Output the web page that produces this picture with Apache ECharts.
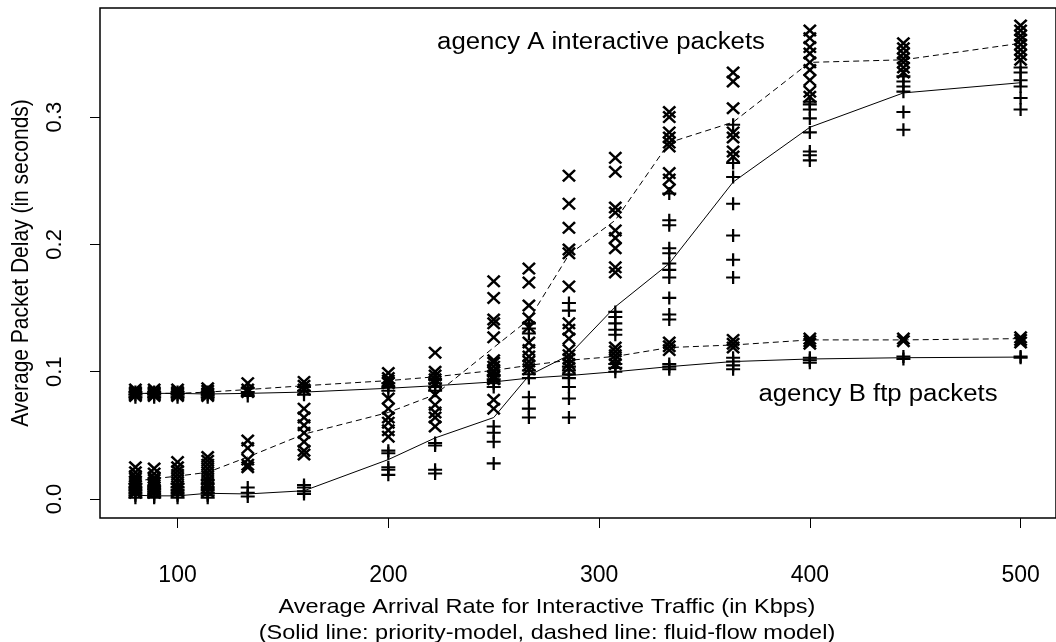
<!DOCTYPE html>
<html>
<head>
<meta charset="utf-8">
<script src="https://cdn.jsdelivr.net/npm/echarts@6/dist/echarts.min.js"></script>
<style>
  html, body { margin: 0; padding: 0; background: #fff; }
  #chart { width: 1056px; height: 642px; }
</style>
</head>
<body>
<div id="chart"></div>
<script>
// arrival rates (Kbps)
const rates = [80, 88.9, 100, 114.3, 133.3, 160, 200, 222.2, 250, 266.7, 285.7, 307.7, 333.3, 363.6, 400, 444.4, 500];

// model curves (seconds)
const aPriority = [0.003, 0.0025, 0.0025, 0.0045, 0.004, 0.0065, 0.031, 0.048, 0.064, 0.097, 0.113, 0.151, 0.185, 0.249, 0.292, 0.319, 0.327];
const aFluid = [0.014, 0.016, 0.018, 0.021, 0.033, 0.051, 0.068, 0.082, 0.119, 0.141, 0.192, 0.219, 0.280, 0.296, 0.343, 0.345, 0.358];
const bPriority = [0.083, 0.083, 0.083, 0.0825, 0.083, 0.084, 0.087, 0.089, 0.092, 0.095, 0.097, 0.100, 0.104, 0.108, 0.110, 0.111, 0.1115];
const bFluid = [0.083, 0.083, 0.083, 0.084, 0.086, 0.089, 0.093, 0.096, 0.101, 0.105, 0.109, 0.112, 0.119, 0.121, 0.125, 0.125, 0.126];

// simulation runs, one list per rate
const aCross = [
  [0.025, 0.021, 0.018, 0.016, 0.014, 0.012, 0.010, 0.008, 0.006, 0.005],
  [0.024, 0.020, 0.017, 0.015, 0.013, 0.011, 0.009, 0.007, 0.005],
  [0.029, 0.025, 0.022, 0.019, 0.016, 0.013, 0.010, 0.008, 0.006],
  [0.033, 0.030, 0.027, 0.024, 0.021, 0.018, 0.015, 0.012, 0.009, 0.006],
  [0.046, 0.040, 0.031, 0.027, 0.025],
  [0.071, 0.064, 0.058, 0.052, 0.045, 0.038, 0.035],
  [0.079, 0.071, 0.064, 0.060, 0.054, 0.049],
  [0.115, 0.082, 0.074, 0.068, 0.064, 0.057],
  [0.171, 0.158, 0.141, 0.138, 0.127, 0.109, 0.107, 0.101, 0.096, 0.078, 0.071],
  [0.181, 0.170, 0.152, 0.142, 0.135, 0.123, 0.117],
  [0.254, 0.232, 0.213, 0.196, 0.193, 0.167, 0.138, 0.133, 0.126],
  [0.268, 0.257, 0.229, 0.225, 0.211, 0.205, 0.197, 0.182, 0.178],
  [0.304, 0.300, 0.288, 0.284, 0.280, 0.277, 0.256, 0.251, 0.243],
  [0.335, 0.328, 0.307, 0.288, 0.284, 0.273, 0.269],
  [0.368, 0.362, 0.355, 0.350, 0.343, 0.337, 0.329, 0.320, 0.316],
  [0.358, 0.354, 0.350, 0.346, 0.343, 0.339, 0.335],
  [0.372, 0.368, 0.364, 0.361, 0.357, 0.353, 0.349, 0.345]
];
const aPlus = [
  [0.012, 0.009, 0.007, 0.005, 0.003, 0.001],
  [0.010, 0.008, 0.006, 0.004, 0.002, 0.001],
  [0.012, 0.009, 0.007, 0.005, 0.003, 0.001],
  [0.015, 0.012, 0.009, 0.007, 0.005, 0.003, 0.001],
  [0.009, 0.005, 0.002],
  [0.011, 0.009, 0.006, 0.004],
  [0.038, 0.036, 0.025, 0.023, 0.019],
  [0.044, 0.042, 0.023, 0.020],
  [0.057, 0.052, 0.045, 0.028],
  [0.138, 0.134, 0.130, 0.080, 0.071, 0.064],
  [0.154, 0.148, 0.088, 0.079, 0.064],
  [0.147, 0.143, 0.138, 0.133, 0.129],
  [0.240, 0.219, 0.215, 0.197, 0.193, 0.185, 0.180, 0.174, 0.158, 0.145, 0.141],
  [0.294, 0.264, 0.253, 0.232, 0.207, 0.188, 0.174],
  [0.312, 0.310, 0.306, 0.299, 0.288, 0.273, 0.270, 0.266],
  [0.332, 0.328, 0.324, 0.320, 0.304, 0.290],
  [0.339, 0.335, 0.329, 0.324, 0.315, 0.306]
];
const bCross = [
  [0.086, 0.084, 0.083, 0.082, 0.081],
  [0.086, 0.084, 0.083, 0.082, 0.081],
  [0.086, 0.084, 0.083, 0.082, 0.081],
  [0.087, 0.085, 0.083, 0.082, 0.081],
  [0.091, 0.086, 0.084],
  [0.092, 0.089, 0.086],
  [0.099, 0.095, 0.093, 0.091],
  [0.100, 0.097, 0.094, 0.091],
  [0.104, 0.100, 0.097, 0.094],
  [0.112, 0.108, 0.105, 0.102],
  [0.117, 0.113, 0.110, 0.106, 0.103],
  [0.119, 0.116, 0.113, 0.110, 0.106],
  [0.123, 0.120, 0.117],
  [0.125, 0.122, 0.119],
  [0.126, 0.124, 0.122],
  [0.126, 0.124],
  [0.127, 0.125, 0.123]
];
const bPlus = [
  [0.084, 0.082, 0.080],
  [0.084, 0.082, 0.080],
  [0.084, 0.082, 0.080],
  [0.084, 0.082, 0.080],
  [0.087, 0.084, 0.081],
  [0.088, 0.085, 0.082],
  [0.091, 0.088, 0.085],
  [0.094, 0.091, 0.088, 0.085],
  [0.097, 0.094, 0.091, 0.088],
  [0.101, 0.098, 0.095],
  [0.104, 0.101, 0.098, 0.095],
  [0.106, 0.103, 0.100],
  [0.106, 0.104, 0.102],
  [0.111, 0.108, 0.105, 0.102],
  [0.111, 0.109, 0.107],
  [0.112, 0.110],
  [0.112, 0.111]
];

const xTicks = [100, 200, 300, 400, 500];
const yTicks = [0, 0.1, 0.2, 0.3];

const FONT = 'Liberation Sans';
const crossPath = 'path://M0,1.3L1.3,0L5,3.7L8.7,0L10,1.3L6.3,5L10,8.7L8.7,10L5,6.3L1.3,10L0,8.7L3.7,5Z';
const plusPath = 'path://M4.2,0H5.8V4.2H10V5.8H5.8V10H4.2V5.8H0V4.2H4.2Z';

const pairs = (ys) => rates.map((r, i) => [r, ys[i]]);
const flatten = (lists) => {
  const out = [];
  lists.forEach((col, i) => col.forEach(v => out.push([rates[i], v])));
  return out;
};

const lineSeries = (ys, dashed) => ({
  type: 'line',
  data: pairs(ys),
  symbol: 'none',
  silent: true,
  lineStyle: { color: '#000', width: 1, type: dashed ? [6, 4] : 'solid' },
  z: 3
});
const pointSeries = (lists, path) => ({
  type: 'scatter',
  data: flatten(lists),
  symbol: path,
  symbolSize: [14, 13],
  silent: true,
  itemStyle: { color: '#000', opacity: 1 },
  z: 2
});

// plain text helper for annotations and titles (the picture is a bit wider than tall)
const label = (text, x, y, size, extra) => Object.assign({
  type: 'text', x: x, y: y, scaleX: 1.12,
  style: { text: text, font: size + 'px "Liberation Sans"', fill: '#000', align: 'center', verticalAlign: 'middle' }
}, extra || {});

const chart = echarts.init(document.getElementById('chart'), null, { renderer: 'canvas' });

chart.setOption({
  animation: false,
  backgroundColor: '#fff',
  textStyle: { fontFamily: FONT },
  grid: {
    left: 100, top: 8, right: -7, bottom: 124,
    show: true, borderColor: '#000', borderWidth: 1.5, backgroundColor: 'transparent'
  },
  xAxis: {
    type: 'value',
    min: 63.2, max: 516.8,
    axisLine: { show: false, onZero: false },
    splitLine: { show: false },
    axisTick: { show: true, inside: false, length: 10, customValues: xTicks, lineStyle: { color: '#000' } },
    axisLabel: { customValues: xTicks, margin: 46, fontSize: 23, color: '#000', fontFamily: FONT }
  },
  yAxis: {
    type: 'value',
    min: -0.0149, max: 0.3857,
    axisLine: { show: false, onZero: false },
    splitLine: { show: false },
    axisTick: { show: true, inside: false, length: 10, customValues: yTicks, lineStyle: { color: '#000' } },
    axisLabel: {
      customValues: yTicks, rotate: 90, margin: 34, fontSize: 22, color: '#000', fontFamily: FONT,
      formatter: v => v.toFixed(1)
    }
  },
  graphic: [
    label('agency A interactive packets', 601, 43, 23),
    label('agency B ftp packets', 878, 395, 23),
    label('Average Arrival Rate for Interactive Traffic (in Kbps)', 547, 607, 21),
    label('(Solid line: priority-model, dashed line: fluid-flow model)', 547, 633, 21),
    label('Average Packet Delay (in seconds)', 22, 263, 21, { scaleX: 1, scaleY: 1.12, rotation: Math.PI / 2 })
  ],
  series: [
    pointSeries(aCross, crossPath),
    pointSeries(bCross, crossPath),
    pointSeries(aPlus, plusPath),
    pointSeries(bPlus, plusPath),
    lineSeries(aPriority, false),
    lineSeries(aFluid, true),
    lineSeries(bPriority, false),
    lineSeries(bFluid, true)
  ]
});
</script>
</body>
</html>
